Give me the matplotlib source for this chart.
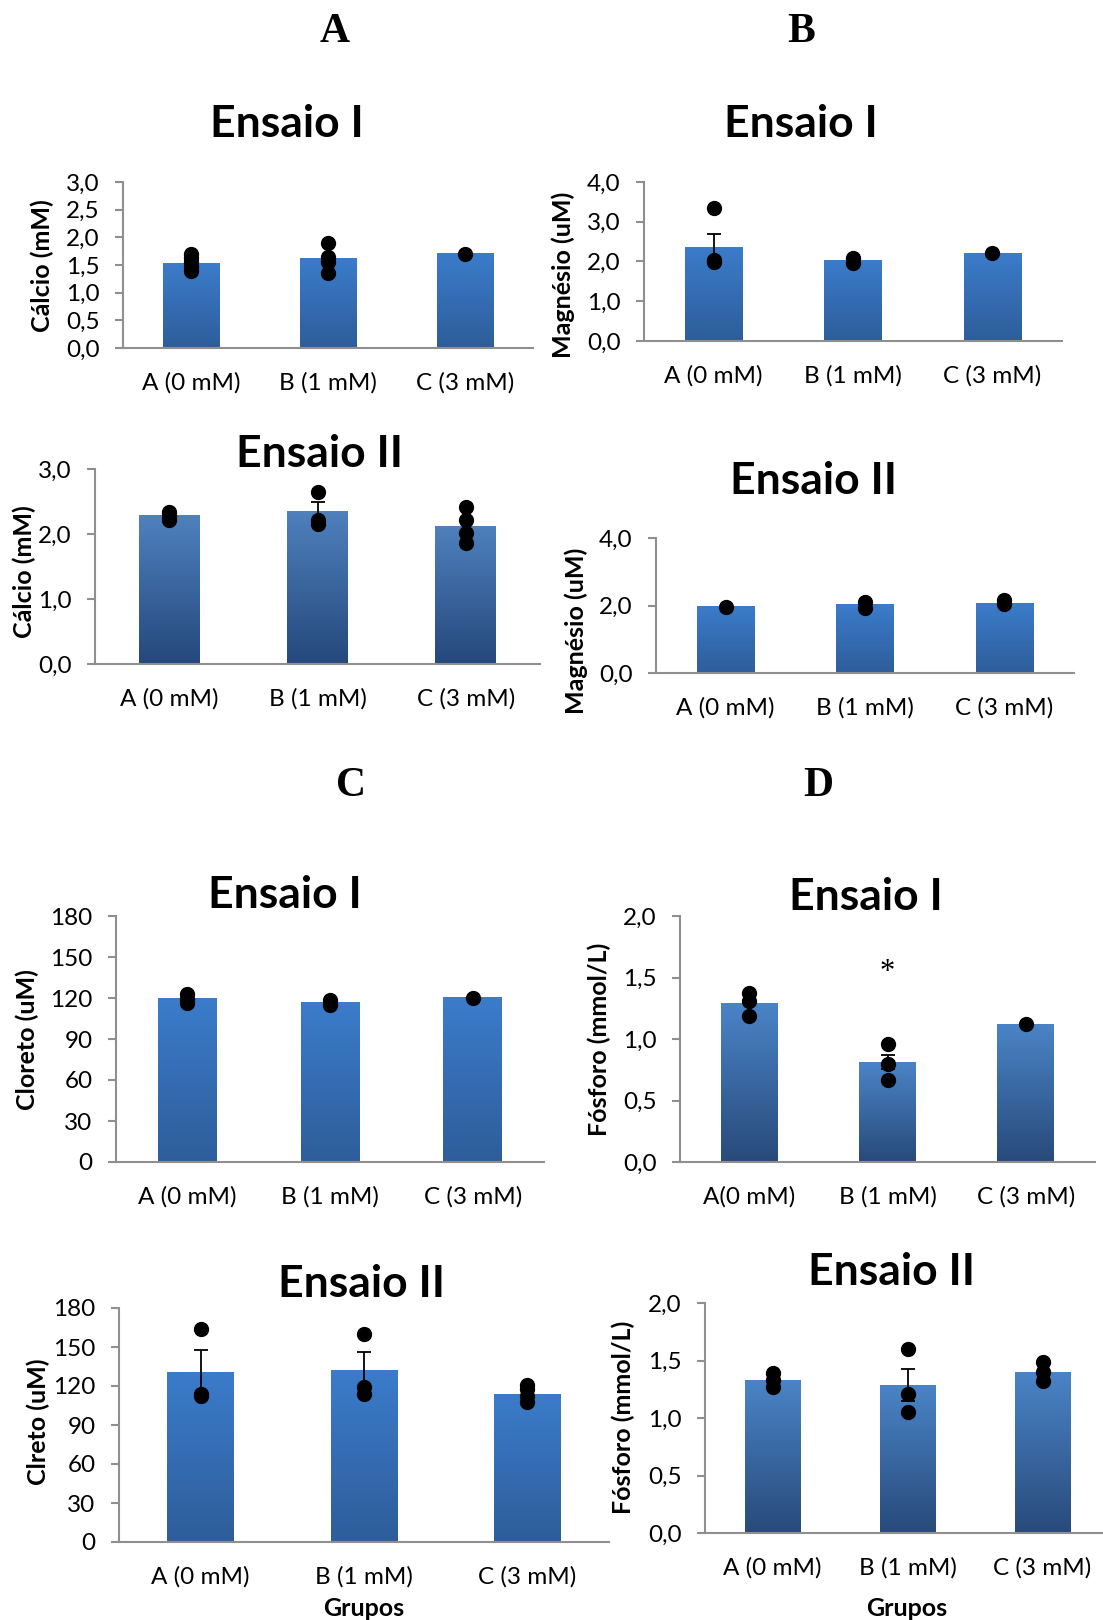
import numpy as np
import matplotlib
matplotlib.use("Agg")
import matplotlib.pyplot as plt
from matplotlib.colors import LinearSegmentedColormap

plt.rcParams['font.family'] = ['Lato', 'DejaVu Sans']

W, H = 1103, 1620

# -----------------------------
# Data
# -----------------------------
groups = ['A (0 mM)', 'B (1 mM)', 'C (3 mM)']
groups_d1 = ['A(0 mM)', 'B (1 mM)', 'C (3 mM)']

ca1_mean = [1.54, 1.63, 1.72]
ca1_err = [0, 0, 0]
ca1_pts = [[1.69, 1.62, 1.55, 1.47, 1.40], [1.89, 1.64, 1.55, 1.36], [1.70]]

mg1_mean = [2.37, 2.04, 2.21]
mg1_err = [0.32, 0, 0]
mg1_pts = [[3.34, 2.04, 1.98], [2.10, 1.96], [2.21]]

ca2_mean = [2.29, 2.36, 2.13]
ca2_err = [0, 0.14, 0]
ca2_pts = [[2.34, 2.28, 2.22], [2.64, 2.22, 2.16], [2.42, 2.22, 2.02, 1.86]]

mg2_mean = [1.99, 2.04, 2.07]
mg2_err = [0, 0, 0]
mg2_pts = [[1.97], [2.11, 1.93], [2.16, 2.04]]

cl1_mean = [119.8, 116.9, 120.6]
cl1_err = [0, 0, 0]
cl1_pts = [[123.0, 119.6, 116.0], [118.8, 114.7], [120.3]]

p1_mean = [1.29, 0.81, 1.12]
p1_err = [0, 0.057, 0]
p1_pts = [[1.37, 1.31, 1.19], [0.96, 0.80, 0.67], [1.12]]

cl2_mean = [131.1, 132.1, 114.2]
cl2_err = [16.4, 14.4, 0]
cl2_pts = [[163.6, 114.2, 112.1], [160.3, 119.3, 114.2], [121.0, 118.0, 112.0, 108.0]]

p2_mean = [1.33, 1.29, 1.40]
p2_err = [0, 0.14, 0]
p2_pts = [[1.39, 1.33, 1.27], [1.60, 1.21, 1.05], [1.49, 1.40, 1.32]]

# -----------------------------
# Figure
# -----------------------------
fig = plt.figure(figsize=(W / 100, H / 100), dpi=100)
AXIS_GREY = '#8f8f8f'
LIGHT = ('#2E5D9A', '#3B7CCB')
MUTED = ('#24487C', '#4F81BD')
DEEP = ('#284A7A', '#4A84C7')


def px_axes(x0, y_top, x1, y_bot):
    return fig.add_axes([x0 / W, 1 - y_bot / H, (x1 - x0) / W, (y_bot - y_top) / H])


def gradient_bars(ax, bars, colors):
    cmap = LinearSegmentedColormap.from_list('bar', list(colors))
    grad = np.linspace(0, 1, 256).reshape(-1, 1)
    for b in bars:
        x, y = b.get_xy()
        w, h = b.get_width(), b.get_height()
        b.set_facecolor('none')
        im = ax.imshow(grad, extent=[x, x + w, y, y + h], origin='lower',
                       aspect='auto', cmap=cmap, zorder=2)
        im.set_clip_path(b)


def panel(box, labels, mean, err, pts, ymax, step, fmt, colors,
          title, title_xy, ylabel, ylabel_xy):
    ax = px_axes(*box)
    xs = np.arange(len(labels))
    bars = ax.bar(xs, mean, width=0.41, linewidth=0, zorder=2)
    gradient_bars(ax, bars, colors)
    e = np.array(err, dtype=float)
    for i in range(len(xs)):
        if e[i] > 0:
            ax.errorbar(xs[i], mean[i], yerr=e[i], fmt='none', ecolor='black',
                        elinewidth=1.3, capsize=5, capthick=1.3, zorder=3)
        ax.plot(np.full(len(pts[i]), xs[i]), pts[i], 'o', color='black',
                markersize=10, zorder=4)
    ax.set_xlim(-0.5, len(xs) - 0.5)
    ax.set_ylim(0, ymax)
    ticks = np.arange(0, ymax + step / 2, step)
    ax.set_yticks(ticks)
    ax.set_yticklabels([fmt(t) for t in ticks])
    ax.set_xticks(xs)
    ax.set_xticklabels(labels)
    for s in ['top', 'right']:
        ax.spines[s].set_visible(False)
    for s in ['left', 'bottom']:
        ax.spines[s].set_color(AXIS_GREY)
        ax.spines[s].set_linewidth(1.5)
    ax.tick_params(axis='y', length=6, width=1.5, color=AXIS_GREY, pad=11,
                   labelsize=17.5)
    ax.tick_params(axis='x', length=0, pad=17, labelsize=17.5)
    fig.text(title_xy[0] / W, 1 - title_xy[1] / H, title, ha='center',
             va='center', fontsize=32, fontweight='bold')
    fig.text(ylabel_xy[0] / W, 1 - ylabel_xy[1] / H, ylabel, rotation=90,
             ha='center', va='center', fontsize=18, fontweight='bold')
    return ax


dec = lambda v: f'{v:.1f}'.replace('.', ',')
intf = lambda v: f'{v:.0f}'

# Panel A
panel((123, 182, 533, 348), groups, ca1_mean, ca1_err, ca1_pts, 3.0, 0.5, dec,
      LIGHT, 'Ensaio I', (287, 124), 'Cálcio (mM)', (42, 266))
panel((95, 469, 540, 664), groups, ca2_mean, ca2_err, ca2_pts, 3.0, 1.0, dec,
      MUTED, 'Ensaio II', (319, 454), 'Cálcio (mM)', (24, 572))

# Panel B
panel((644, 182, 1062, 341), groups, mg1_mean, mg1_err, mg1_pts, 4.0, 1.0, dec,
      LIGHT, 'Ensaio I', (801, 124), 'Magnésio (uM)', (563, 275))
panel((656, 538, 1074, 673), groups, mg2_mean, mg2_err, mg2_pts, 4.0, 2.0, dec,
      LIGHT, 'Ensaio II', (814, 481), 'Magnésio (uM)', (576, 631))

# Panel C
panel((116, 916, 544, 1162), groups, cl1_mean, cl1_err, cl1_pts, 180, 30, intf,
      LIGHT, 'Ensaio I', (285, 895), 'Cloreto (uM)', (27, 1040))
panel((119, 1308, 609, 1542), groups, cl2_mean, cl2_err, cl2_pts, 180, 30, intf,
      LIGHT, 'Ensaio II', (362, 1284), 'Clreto (uM)', (38, 1422))

# Panel D
ax_d1 = panel((680, 916, 1095, 1162), groups_d1, p1_mean, p1_err, p1_pts, 2.0, 0.5,
              dec, DEEP, 'Ensaio I', (866, 897), 'Fósforo (mmol/L)', (599, 1039))
ax_d1.text(1, 1.54, '*', ha='center', va='center', fontsize=22,
           family='Liberation Serif')
panel((705, 1303, 1110, 1533), groups, p2_mean, p2_err, p2_pts, 2.0, 0.5, dec,
      DEEP, 'Ensaio II', (892, 1272), 'Fósforo (mmol/L)', (623, 1417))

# Group axis titles
fig.text(364 / W, 1 - 1608 / H, 'Grupos', ha='center', va='center',
         fontsize=18, fontweight='bold')
fig.text(907 / W, 1 - 1608 / H, 'Grupos', ha='center', va='center',
         fontsize=18, fontweight='bold')

# Panel letters
for letter, (lx, ly) in zip('ABCD', [(335, 32), (801, 32), (351, 786), (818, 786)]):
    fig.text(lx / W, 1 - ly / H, letter, ha='center', va='center', fontsize=30,
             fontweight='bold', family='Liberation Serif')

fig.savefig('out.png', dpi=100)
